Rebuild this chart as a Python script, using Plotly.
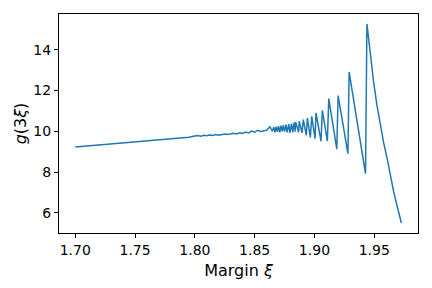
import plotly.graph_objects as go

# Margin xi values
xi = [
    1.700, 1.720, 1.740, 1.760, 1.780, 1.790, 1.795,
    1.8000, 1.8025, 1.8050, 1.8075, 1.8100, 1.8125, 1.8150, 1.8175, 1.8200,
    1.8225, 1.8250, 1.8275, 1.8300, 1.8325, 1.8350, 1.8375, 1.8400, 1.8425,
    1.8450, 1.8475, 1.8500, 1.8525, 1.8550, 1.8575, 1.8600, 1.8628, 1.8647,
    1.8660, 1.8670, 1.8680, 1.8690, 1.8700, 1.8710, 1.8720, 1.8730, 1.8740,
    1.8750, 1.8762, 1.8772, 1.8785, 1.8795, 1.8808, 1.8818, 1.8830, 1.8838,
    1.8843, 1.8868, 1.8873, 1.8896, 1.8907, 1.8932, 1.8941, 1.8966, 1.8977,
    1.9005, 1.9013, 1.9055, 1.9066, 1.9108, 1.9120, 1.9187, 1.9198, 1.9280,
    1.9290, 1.9427, 1.9439, 1.9467, 1.9494, 1.9522, 1.9550, 1.9578, 1.9607,
    1.9635, 1.9662, 1.9695, 1.9727,
]

# g(3 xi) values
g3xi = [
    9.23, 9.33, 9.43, 9.53, 9.63, 9.68, 9.71,
    9.77, 9.79, 9.76, 9.80, 9.78, 9.82, 9.79, 9.84, 9.81,
    9.84, 9.87, 9.84, 9.88, 9.90, 9.87, 9.92, 9.89, 9.96,
    9.92, 10.01, 9.95, 10.05, 9.99, 10.03, 10.05, 10.22, 10.00,
    10.20, 9.95, 10.22, 9.97, 10.25, 9.95, 10.28, 10.00, 10.30,
    9.98, 10.32, 9.95, 10.35, 9.92, 10.38, 9.95, 10.42, 9.98,
    10.45, 9.95, 10.50, 9.92, 10.57, 9.80, 10.65, 9.70, 10.73,
    9.64, 10.90, 9.51, 11.02, 9.52, 11.60, 9.12, 11.75, 8.90,
    12.91, 7.92, 15.26, 13.70, 12.45, 11.30, 10.32, 9.45, 8.69,
    7.85, 7.05, 6.25, 5.50,
]

x_ticks = [1.70, 1.75, 1.80, 1.85, 1.90, 1.95]
y_ticks = [6, 8, 10, 12, 14]

fig = go.Figure()
fig.add_trace(go.Scatter(
    x=xi, y=g3xi, mode="lines",
    line=dict(color="#1f77b4", width=1.5),
    showlegend=False,
))

axis_common = dict(
    showline=True, linecolor="black", linewidth=1, mirror=True,
    ticks="outside", ticklen=4, tickwidth=1, tickcolor="black",
    showgrid=False, zeroline=False, automargin=False,
    tickfont=dict(family="DejaVu Sans", size=14, color="black"),
)

# the page body adds an 8 px offset, so the figure is 8 px smaller
fig.update_layout(
    width=424, height=280,
    margin=dict(l=51, r=14, t=6, b=55),
    paper_bgcolor="white", plot_bgcolor="white",
    font=dict(family="DejaVu Sans", color="black"),
    xaxis=dict(
        range=[1.6864, 1.9866], tickvals=x_ticks,
        ticktext=[f"{v:.2f}" for v in x_ticks],
        title=dict(text="Margin <i>ξ</i>", font=dict(size=16), standoff=8),
        **axis_common,
    ),
    yaxis=dict(
        range=[5.012, 15.748], tickvals=y_ticks,
        ticktext=[str(v) for v in y_ticks],
        title=dict(text="<i>g</i>(3<i>ξ</i>)", font=dict(size=16), standoff=2),
        **axis_common,
    ),
)

fig.write_html("out.html")
